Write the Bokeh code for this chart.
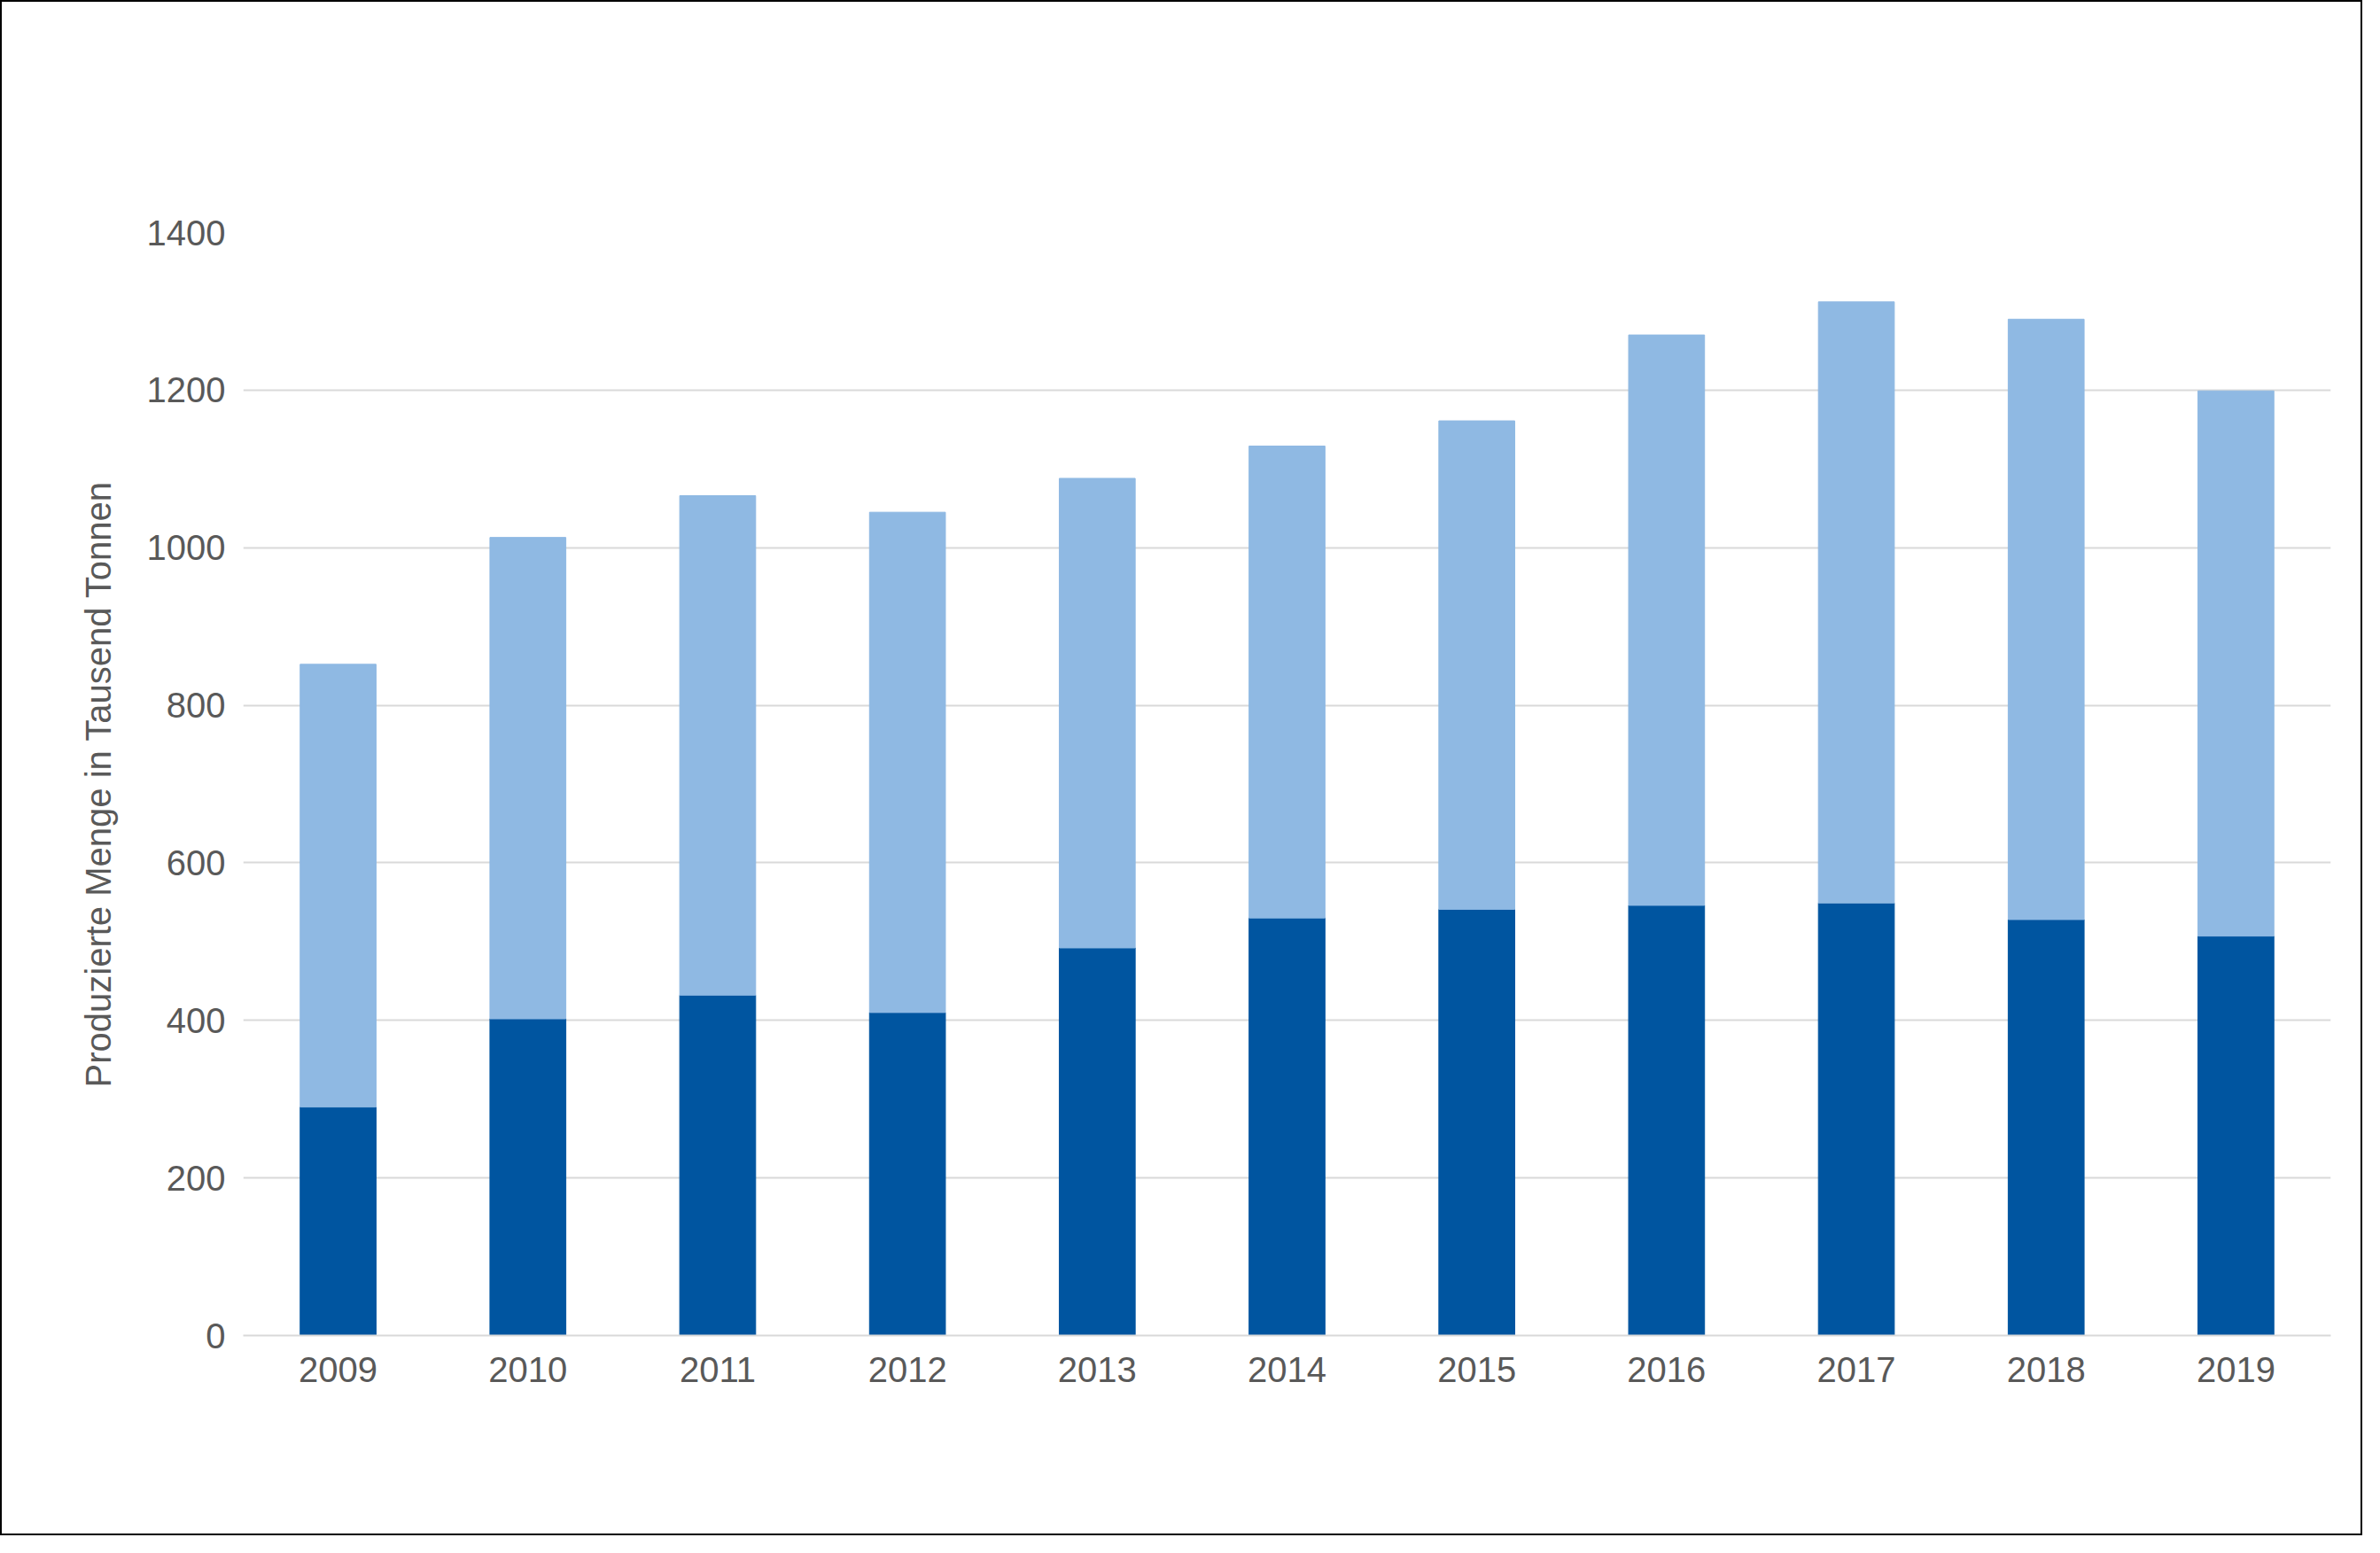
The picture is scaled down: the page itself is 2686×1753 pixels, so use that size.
from bokeh.plotting import figure
from bokeh.models import Label, FixedTicker
from bokeh.embed import file_html
from bokeh.resources import INLINE

years = ["2009","2010","2011","2012","2013","2014","2015","2016","2017","2018","2019"]
primaer = [290, 402, 432, 410, 492, 530, 541, 546, 549, 528, 507]
gesamt = [852, 1013, 1066, 1045, 1088, 1129, 1161, 1270, 1312, 1290, 1199]
sekundaer = [g - p for g, p in zip(gesamt, primaer)]
yticks = [0, 200, 400, 600, 800, 1000, 1200, 1400]
series = ["Primäralumminium", "Sekundäraluminium"]
colors = ["#0055a0", "#8fb9e3"]

F = "Liberation Sans"
G = "#595959"
p = figure(x_range=years, y_range=(0, 1400), width=2666, height=1733,
           output_backend="svg", toolbar_location=None,
           min_border_left=272, min_border_right=38, min_border_top=260, min_border_bottom=228,
           styles={"border": "2px solid black"})
src = dict(years=years, primaer=primaer, sekundaer=sekundaer)
rs = p.vbar_stack(["primaer", "sekundaer"], x="years", width=0.4, source=src, color=colors)
p.outline_line_color = None
p.xgrid.grid_line_color = None
p.ygrid.grid_line_color = "#d9d9d9"
p.ygrid.grid_line_width = 2
p.yaxis.ticker = FixedTicker(ticks=yticks)
p.yaxis.axis_line_color = None
p.yaxis.major_tick_line_color = None
p.yaxis.minor_tick_line_color = None
p.xaxis.axis_line_color = "#d9d9d9"
p.xaxis.axis_line_width = 2
p.xaxis.major_tick_line_color = None
for ax in (p.xaxis, p.yaxis):
    ax.major_label_text_font = F
    ax.major_label_text_font_size = "40px"
    ax.major_label_text_color = G
p.xaxis.major_label_standoff = 18
p.yaxis.major_label_standoff = 14
p.yaxis.axis_label = "Produzierte Menge in Tausend Tonnen"
p.yaxis.axis_label_text_font = F
p.yaxis.axis_label_text_font_size = "40px"
p.yaxis.axis_label_text_font_style = "normal"
p.yaxis.axis_label_text_color = G
p.yaxis.axis_label_standoff = 30

def lab(x, y, t, size, align="left", color=G, font=F):
    p.add_layout(Label(x=x, y=y, x_units="screen", y_units="screen", text=t,
                       text_align=align, text_baseline="middle", text_font=font,
                       text_font_size=size, text_color=color))

lab(1067, 1427, "Produktion von Primär- und Sekundäraluminium in Deutschland", "62px", "center")
lab(382, 1341, "in den Jahren 2009 bis 2019", "62px")
lab(1331, 1336, "(in 1.000 Tonnen)", "42px")

lab(413, -165, "■", "58px", color=colors[0], font="DejaVu Sans")
lab(463, -165, series[0], "58px")
lab(1105, -165, "■", "58px", color=colors[1], font="DejaVu Sans")
lab(1161, -165, series[1], "58px")

open("out.html", "w").write(file_html(p, INLINE))
